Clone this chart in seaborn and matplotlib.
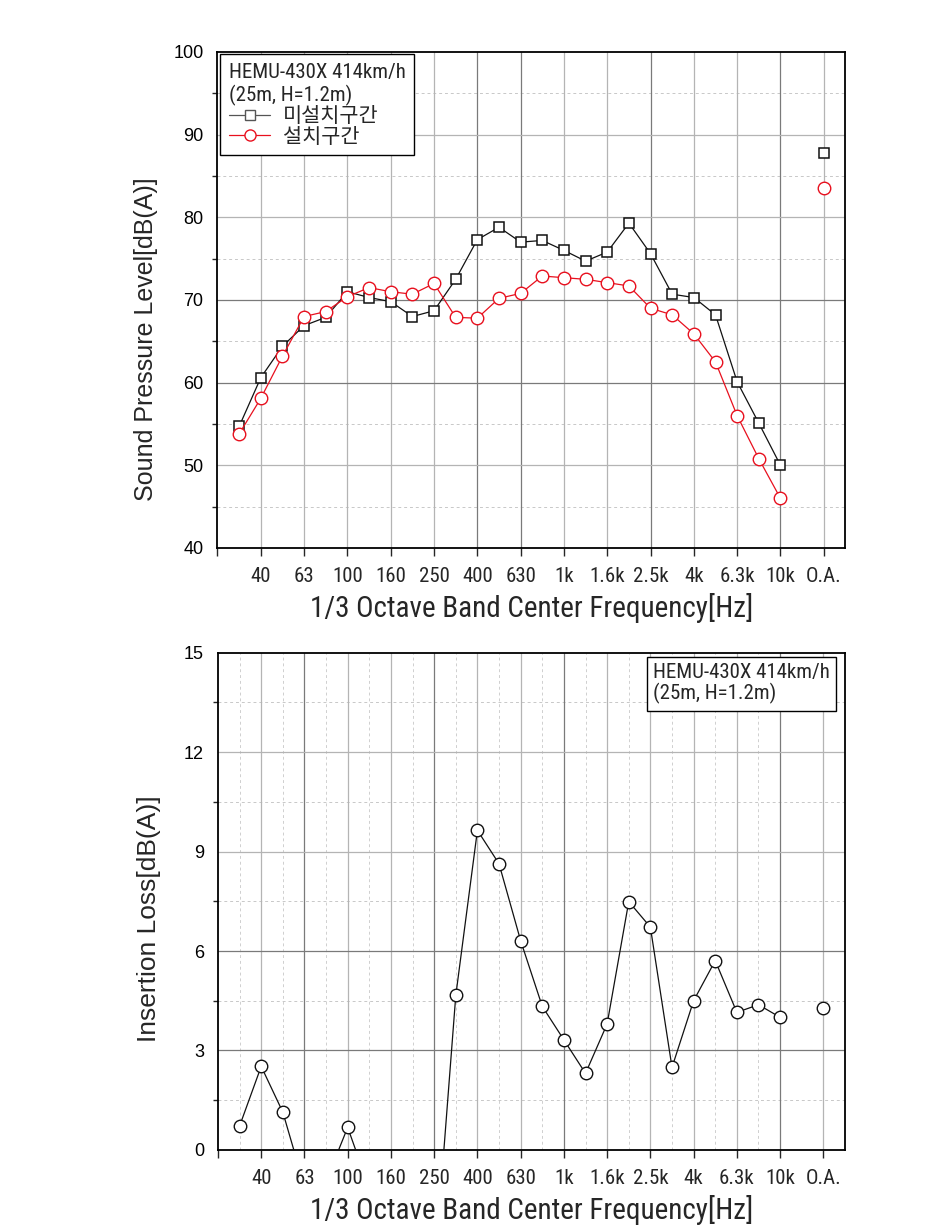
import numpy as np
import pandas as pd
import matplotlib
matplotlib.use("Agg")
import matplotlib.pyplot as plt
from matplotlib.lines import Line2D
from matplotlib import font_manager as fm
import seaborn as sns

# ---------------- data ----------------
bands = ['31.5', '40', '50', '63', '80', '100', '125', '160', '200', '250',
         '315', '400', '500', '630', '800', '1k', '1.25k', '1.6k', '2k', '2.5k',
         '3.15k', '4k', '5k', '6.3k', '8k', '10k']
overall_label = 'O.A.'

spl_without = [54.7, 60.6, 64.4, 66.9, 67.9, 71.0, 70.3, 69.8, 68.0, 68.7,
               72.5, 77.3, 78.8, 77.0, 77.2, 76.0, 74.7, 75.8, 79.3, 75.6,
               70.7, 70.3, 68.2, 60.1, 55.1, 50.0]
spl_without_oa = 87.8
spl_with = [53.8, 58.1, 63.2, 68.0, 68.6, 70.4, 71.5, 71.0, 70.7, 72.0,
            67.9, 67.8, 70.2, 70.8, 72.9, 72.7, 72.5, 72.1, 71.7, 69.0,
            68.2, 65.9, 62.5, 56.0, 50.8, 46.0]
spl_with_oa = 83.5
insertion_loss = [0.72, 2.52, 1.14, -1.10, -0.94, 0.68, -1.16, -1.20, -2.70, -3.80,
                  4.66, 9.64, 8.63, 6.31, 4.33, 3.32, 2.31, 3.80, 7.49, 6.72,
                  2.49, 4.50, 5.71, 4.15, 4.38, 4.00]
insertion_loss_oa = 4.28

series_names = ['미설치구간', '설치구간']
legend_title = 'HEMU-430X 414km/h\n(25m, H=1.2m)'

# ---------------- fonts ----------------
sns.set_style('white')
fonts = fm.fontManager.ttflist
names = {f.name for f in fonts}
sans = 'Liberation Sans' if 'Liberation Sans' in names else 'DejaVu Sans'

cond_family, cond_stretch = None, 'normal'
for pref in ['Liberation Sans Narrow', 'Roboto Condensed', 'Open Sans Condensed',
             'Noto Sans Condensed', 'DejaVu Sans Condensed']:
    if pref in names:
        cond_family = pref
        break
if cond_family is None:
    for f in fonts:
        if f.name in ('DejaVu Sans', 'Noto Sans', 'Open Sans', 'Roboto', 'Inter') and \
                str(f.stretch) in ('condensed', 'semi-condensed', 'extra-condensed'):
            cond_family, cond_stretch = f.name, str(f.stretch)
            break
if cond_family is None:
    cond_family = 'DejaVu Sans'

narrow_fam = [cond_family, 'Noto Sans CJK KR', 'DejaVu Sans']
NARROW = dict(family=narrow_fam, stretch=cond_stretch)
plt.rcParams['font.family'] = [sans, 'Noto Sans CJK KR', 'DejaVu Sans']

# ---------------- positions ----------------
pos = np.arange(len(bands))
oa_pos = len(bands) + 1
df = pd.DataFrame({'pos': pos, 'band': bands,
                   series_names[0]: spl_without, series_names[1]: spl_with,
                   'IL': insertion_loss})
df_oa = pd.DataFrame({'pos': [oa_pos], series_names[0]: [spl_without_oa],
                      series_names[1]: [spl_with_oa], 'IL': [insertion_loss_oa]})

tick_pos = [-1] + list(pos[1::2]) + [oa_pos]
tick_lab = [''] + bands[1::2] + [overall_label]

RED = '#e8101e'
BLK = '#111111'

fig = plt.figure(figsize=(9.46, 12.32), dpi=100)
ax1 = fig.add_axes([0.2299, 0.5552, 0.6638, 0.4026])
ax2 = fig.add_axes([0.2304, 0.0666, 0.6628, 0.4037])


def style_axes(ax, ylo, yhi, ymaj, ymin_step, vdark, hdark, vminor):
    ax.set_xlim(-1, oa_pos + 1)
    ax.set_ylim(ylo, yhi)
    for p in pos[1::2].tolist() + [oa_pos]:
        ax.axvline(p, color='#7a7a7a' if p in vdark else '#b4b4b4', lw=0.9, zorder=0.5)
    if vminor:
        for p in list(pos[0::2]):
            ax.axvline(p, color='#cfcfcf', lw=0.7, ls=(0, (3, 3)), zorder=0.4)
    for v in np.arange(ylo + ymaj, yhi, ymaj):
        ax.axhline(v, color='#7a7a7a' if v in hdark else '#b4b4b4', lw=0.9, zorder=0.5)
    for v in np.arange(ylo + ymin_step, yhi, ymaj):
        ax.axhline(v, color='#c8c8c8', lw=0.7, ls=(0, (3, 3)), zorder=0.4)
    ax.set_yticks(np.arange(ylo, yhi + 0.01, ymaj))
    ax.set_yticks(np.arange(ylo + ymin_step, yhi, ymaj), minor=True)
    ax.set_xticks(tick_pos)
    ax.set_xticklabels(tick_lab, fontsize=15, **NARROW)
    for lab in ax.get_yticklabels():
        lab.set_fontsize(13)
    ax.tick_params(axis='y', which='major', direction='out', length=7, width=1, pad=3, colors='black')
    ax.tick_params(axis='y', which='minor', direction='out', length=3.5, width=1, left=True)
    ax.tick_params(axis='x', which='major', direction='out', length=5.5, width=1, pad=8, bottom=True)
    for s in ax.spines.values():
        s.set_color('black')
        s.set_linewidth(1.3)
    ax.set_xlabel('1/3 Octave Band Center Frequency[Hz]', fontsize=21, labelpad=5, **NARROW)


style_axes(ax1, 40, 100, 10, 5, vdark=[11, 13, 19, 25], hdark=[60, 70], vminor=False)
style_axes(ax2, 0, 15, 3, 1.5, vdark=[3, 9, 15, 25], hdark=[3, 6], vminor=True)

# ---------------- top plot ----------------
sns.lineplot(data=df, x='pos', y=series_names[0], ax=ax1, color=BLK, lw=0.9,
             marker='s', markersize=7.5, markerfacecolor='white',
             markeredgecolor=BLK, markeredgewidth=1.1, zorder=3)
sns.lineplot(data=df, x='pos', y=series_names[1], ax=ax1, color=RED, lw=0.9,
             marker='o', markersize=9, markerfacecolor='white',
             markeredgecolor=RED, markeredgewidth=1.0, zorder=4)
sns.lineplot(data=df_oa, x='pos', y=series_names[0], ax=ax1, color=BLK, lw=0,
             marker='s', markersize=7.5, markerfacecolor='white',
             markeredgecolor=BLK, markeredgewidth=1.1, zorder=3)
sns.lineplot(data=df_oa, x='pos', y=series_names[1], ax=ax1, color=RED, lw=0,
             marker='o', markersize=9, markerfacecolor='white',
             markeredgecolor=RED, markeredgewidth=1.0, zorder=4)
ax1.set_xlim(-1, oa_pos + 1)
ax1.set_ylabel('Sound Pressure Level[dB(A)]', fontsize=18)
ax1.yaxis.set_label_coords(-0.094, 0.42)

handles = [Line2D([0], [0], color='#555555', lw=0.9, marker='s', markersize=7,
                  markerfacecolor='white', markeredgecolor='#555555'),
           Line2D([0], [0], color=RED, lw=0.9, marker='o', markersize=8,
                  markerfacecolor='white', markeredgecolor=RED)]
leg = ax1.legend(handles, series_names, title=legend_title, loc='upper left',
                 bbox_to_anchor=(0.004, 0.996), borderaxespad=0.0,
                 frameon=True, fancybox=False,
                 edgecolor='black', framealpha=1, borderpad=0.42, handlelength=2.0,
                 handletextpad=0.6, labelspacing=0.05, alignment='left',
                 prop=dict(size=15, **NARROW),
                 title_fontproperties=dict(size=15, **NARROW))
leg.get_frame().set_linewidth(1.0)
leg._legend_box.sep = 1

# ---------------- bottom plot ----------------
sns.lineplot(data=df, x='pos', y='IL', ax=ax2, color=BLK, lw=0.9,
             marker='o', markersize=9, markerfacecolor='white',
             markeredgecolor=BLK, markeredgewidth=1.0, zorder=3)
sns.lineplot(data=df_oa, x='pos', y='IL', ax=ax2, color=BLK, lw=0,
             marker='o', markersize=9, markerfacecolor='white',
             markeredgecolor=BLK, markeredgewidth=1.0, zorder=3)
ax2.set_xlim(-1, oa_pos + 1)
ax2.set_ylim(0, 15)
ax2.set_ylabel('Insertion Loss[dB(A)]', fontsize=19)
ax2.yaxis.set_label_coords(-0.091, 0.465)
ax2.text(0.976, 0.98, legend_title, transform=ax2.transAxes, ha='right', va='top',
         multialignment='left', fontsize=15, linespacing=1.1, zorder=6,
         bbox=dict(boxstyle='square,pad=0.3', facecolor='white', edgecolor='black', lw=1.0),
         **NARROW)

fig.savefig('out.png', dpi=100)
